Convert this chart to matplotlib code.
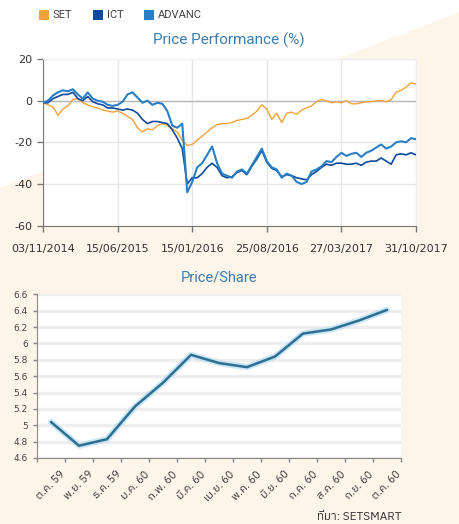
import numpy as np
import matplotlib
matplotlib.use("Agg")
import matplotlib.pyplot as plt
from matplotlib import font_manager as fm, ft2font
from matplotlib.patches import Polygon, Rectangle

# ---------------- data ----------------
series_names = ["SET", "ICT", "ADVANC"]
perf_dates = ["03/11/2014", "15/06/2015", "15/01/2016", "25/08/2016", "27/03/2017", "31/10/2017"]

set_perf = [-1, -2, -3, -7, -4, -2.5, 0.5, 1, -1, -2, -3, -3.5, -4.5, -5, -5.5, -5,
            -6, -7.5, -9, -13, -15, -13.5, -14, -12, -11, -12, -13.5, -15, -19, -21.5,
            -21, -19, -17, -15, -13, -11.5, -11, -11, -10.5, -9.5, -9, -8.5, -7, -5, -2,
            -4, -9, -6, -10.5, -6, -5.5, -6.5, -4.5, -3.5, -2.5, -0.5, 0.5, 0, -1, -0.5,
            -1, 0, -1.5, -1.5, -1, -0.5, -0.5, 0, 0, -0.5, 0.5, 4, 5, 6.5, 8.5, 8]
ict_perf = [-1, -1, 1, 2, 3, 3, 4, 1, 0, 2, -0.5, -1.5, -2, -3.5, -3.5, -4,
            -4.5, -4, -4.5, -6, -9, -11, -10, -10, -10.5, -11, -14, -18, -23, -40,
            -37, -37, -35, -32, -30, -32, -36, -37, -36.5, -34.5, -33.5, -35.5, -31.5, -28, -24,
            -29.5, -32.5, -33.5, -36.5, -35.5, -36, -37, -37.5, -38, -35.5, -34, -32, -30.5, -31, -30,
            -30, -30.5, -30.5, -30, -31, -29.5, -29, -29, -27.5, -29, -30.5, -26, -25.5, -26, -25, -26]
advanc_perf = [-1, 0, 2.5, 4, 5, 4.5, 5.5, 3, 1, 4, 1, 0, -0.5, -2, -2.5, -2,
               -0.5, 3, 4, 1.5, -1, 0, -2, -1, -1.5, -5, -12, -13, -11, -44,
               -39, -32, -30, -26, -22, -30, -35, -36, -37, -34, -33, -35, -31, -27, -23,
               -29, -32, -33, -37, -35, -36, -39, -40, -39, -34, -33, -31.5, -29, -29.5, -27,
               -25, -26.5, -25.5, -25, -27, -25, -24, -22.5, -21, -23, -22, -20, -19.5, -20, -18, -18.5]

months = ["ต.ค. 59", "พ.ย. 59", "ธ.ค. 59", "ม.ค. 60", "ก.พ. 60", "มี.ค. 60", "เม.ย. 60",
          "พ.ค. 60", "มิ.ย. 60", "ก.ค. 60", "ส.ค. 60", "ก.ย. 60", "ต.ค. 60"]
price = [5.04, 4.75, 4.83, 5.23, 5.52, 5.86, 5.76, 5.71, 5.84, 6.12, 6.17, 6.28, 6.41]

# ---------------- fonts ----------------
def find_thai_font():
    cands = []
    for f in fm.findSystemFonts():
        try:
            ft = ft2font.FT2Font(f)
            cm = ft.get_charmap()
            if 0x0E01 in cm and 0x0E35 in cm:
                cands.append(f)
        except Exception:
            pass
    if not cands:
        return None
    cands.sort(key=lambda p: (0 if "Sans" in p else 1, 0 if "Regular" in p else 1, p))
    return cands[0]

thai_path = find_thai_font()
thai_fp = fm.FontProperties(fname=thai_path) if thai_path else fm.FontProperties(family="DejaVu Sans")

plt.rcParams["font.family"] = ["DejaVu Sans"]

W, H = 460, 524
fig = plt.figure(figsize=(W / 100, H / 100), dpi=100)
fig.patch.set_facecolor("#fdf5ea")

def fx(px):
    return px / W

def fy(py):
    return 1 - py / H

# white background triangle upper-left
fig.patches.append(Polygon([(fx(0), fy(0)), (fx(460), fy(0)), (fx(460), fy(12)), (fx(0), fy(188))],
                           closed=True, transform=fig.transFigure, facecolor="white",
                           edgecolor="none", zorder=-10))

c_set = "#f0a23c"
c_ict = "#0d4a9c"
c_adv = "#2a7fc4"
title_c = "#3b7db3"
tick_c = "#333333"

# ---------------- legend ----------------
leg_items = [(39, c_set, series_names[0]), (93, c_ict, series_names[1]), (144, c_adv, series_names[2])]
for x0, col, name in leg_items:
    fig.patches.append(Rectangle((fx(x0), fy(20)), 10 / W, 10 / H, transform=fig.transFigure,
                                 facecolor=col, edgecolor="none"))
    fig.text(fx(x0 + 14), fy(15), name, fontsize=8, color="#444444", va="center", ha="left",
             family="Roboto")

fig.text(fx(229), fy(40), "Price Performance (%)", fontsize=11, color=title_c,
         ha="center", va="center", family="Roboto")

# ---------------- top chart ----------------
ax1 = fig.add_axes([fx(43), fy(225.7), (416 - 43) / W, (225.7 - 59) / H])
ax1.set_facecolor("white")
n = len(set_perf)
x = np.arange(n)
ax1.plot(x, set_perf, color=c_set, lw=1.0, zorder=3)
ax1.plot(x, ict_perf, color=c_ict, lw=1.2, zorder=4)
ax1.plot(x, advanc_perf, color=c_adv, lw=1.5, zorder=5)
ax1.set_xlim(0, n - 1)
ax1.set_ylim(-60, 20)
ax1.set_yticks([20, 0, -20, -40, -60])
ax1.set_yticklabels(["20", "0", "-20", "-40", "-60"])
ax1.set_xticks(np.linspace(0, n - 1, len(perf_dates)))
ax1.set_xticklabels(perf_dates)
ax1.grid(True, color="#e6e6e6", lw=1.0, zorder=0)
ax1.axhline(0, color="#b8b8b8", lw=1.0, zorder=1)
for s in ["top", "right"]:
    ax1.spines[s].set_color("#eeeeee")
for s in ["left", "bottom"]:
    ax1.spines[s].set_color("#777777")
ax1.tick_params(axis="both", colors="#777777", labelcolor=tick_c, length=4, width=1, labelsize=8)
ax1.tick_params(axis="x", pad=9)
ax1.set_axisbelow(True)

# ---------------- bottom chart ----------------
fig.text(fx(219), fy(278), "Price/Share", fontsize=10.5, color=title_c, ha="center",
         va="center", family="Roboto")

ax2 = fig.add_axes([fx(37), fy(458), (401 - 37) / W, (458 - 294.3) / H])
ax2.set_facecolor("white")
m = len(price)
xc = np.arange(m) + 0.5
ax2.plot(xc, price, color="#b5dcf2", lw=4.5, alpha=0.7, solid_capstyle="round", zorder=3)
ax2.plot(xc, price, color="#2d6f93", lw=1.8, solid_capstyle="round", zorder=4)
ax2.set_xlim(0, m)
ax2.set_ylim(4.6, 6.6)
yt = np.round(np.arange(4.6, 6.61, 0.2), 1)
ax2.set_yticks(yt)
ax2.set_yticklabels([("%g" % v) for v in yt])
ax2.set_xticks(np.arange(m + 1))
ax2.set_xticklabels([])
ax2.set_xticks(xc, minor=True)
ax2.set_xticklabels(months, minor=True, rotation=45, ha="center", fontproperties=thai_fp,
                    fontsize=7.8, color="#333333")
ax2.tick_params(axis="x", which="minor", length=0, pad=8)
ax2.tick_params(axis="both", which="major", colors="#888888", labelcolor="#444444",
                length=3, width=1, labelsize=6.5)
ax2.yaxis.grid(True, color="#eeeeee", lw=2.5, zorder=0)
ax2.set_axisbelow(True)
for s in ["top", "right"]:
    ax2.spines[s].set_visible(False)
for s in ["left", "bottom"]:
    ax2.spines[s].set_color("#888888")

src_fp = thai_fp.copy()
src_fp.set_size(8.5)
fig.text(fx(402), fy(517), "ที่มา: SETSMART", fontproperties=src_fp, color="#333333",
         ha="right", va="center")

fig.savefig("out.png", dpi=100, facecolor=fig.get_facecolor())
